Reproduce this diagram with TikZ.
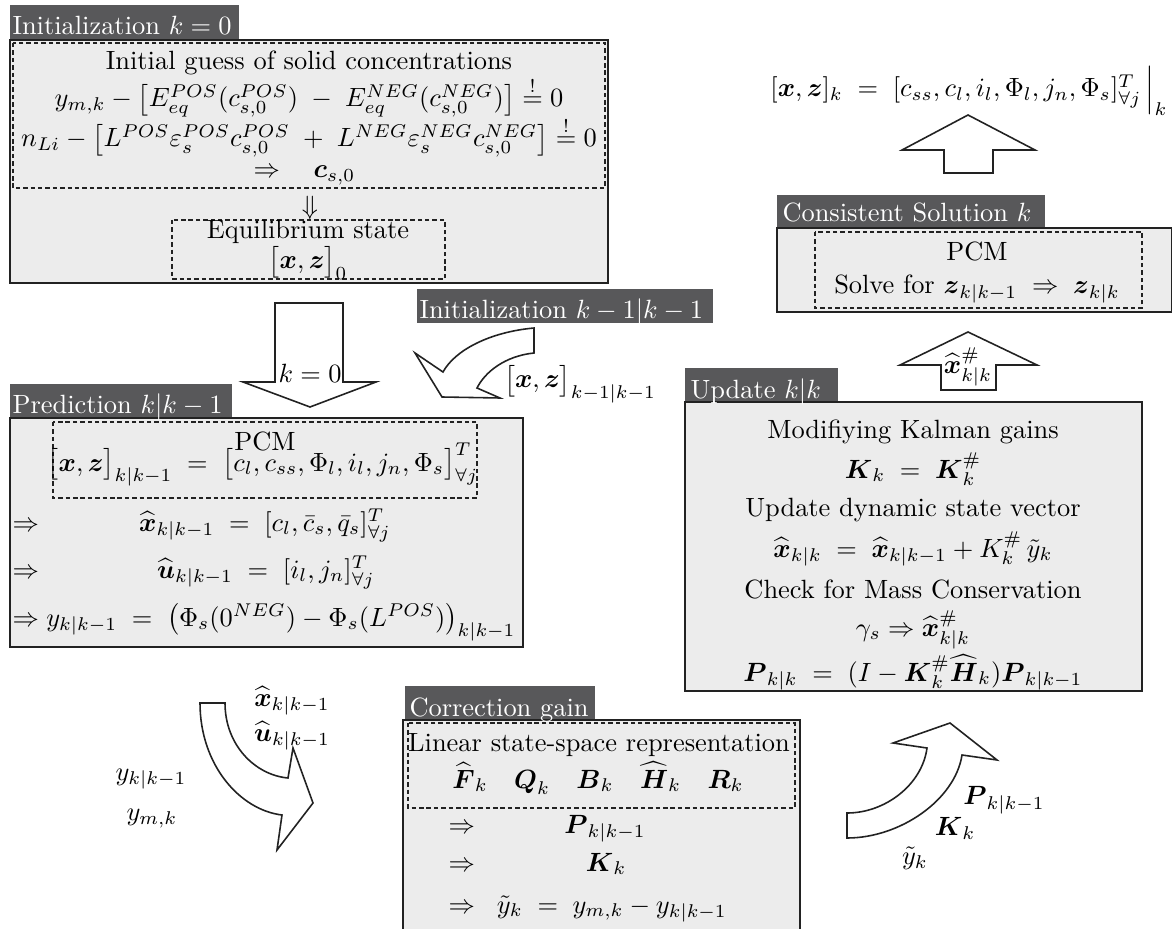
\documentclass[tikz,border=0pt]{standalone}
\usepackage{amsmath,amssymb}
\usetikzlibrary{calc}
\definecolor{tabgray}{HTML}{58585A}
\definecolor{boxgray}{HTML}{ECECEC}
\definecolor{linegray}{HTML}{222222}
\begin{document}
\begin{tikzpicture}[x=0.3788pt,y=-0.3788pt,
  frame/.style={draw=linegray, line width=0.75pt, fill=boxgray},
  tabfill/.style={fill=tabgray, draw=none},
  tabtext/.style={text=white, inner sep=0pt, anchor=base west},
  dbox/.style={draw=linegray, line width=0.5pt, dash pattern=on 1.7pt off 1.1pt},
  fat/.style={draw=linegray, line width=0.6pt, fill=white, line join=miter},
  lbl/.style={inner sep=0pt},
  bl/.style={inner sep=0pt, anchor=base},
  bw/.style={inner sep=0pt, anchor=base west}]
\useasboundingbox (0,0) rectangle (1172,928);
\clip (0,0) rectangle (1172,928);

% ---------- Box 1: Initialization k=0 ----------
\path[tabfill] (10,5) rectangle (239,40);
\coordinate (b1r) at (608,0);
\coordinate (d1r) at (605,0);
\coordinate (b1bot) at (0,283);
\coordinate (d1bot) at (0,188);
\draw[frame] (10,40) rectangle (b1r |- b1bot);
\draw[dbox] (13,43) rectangle (d1r |- d1bot);
\node[tabtext] (t1) at (12,35) {Initialization $k=0$};
\node[bl] (b1l1) at (309,70) {Initial guess of solid concentrations};
\node[bl] (b1l2) at (309,107) {$y_{m,k} - \big[E^{POS}_{eq}(c^{POS}_{s,0})\;-\;E^{NEG}_{eq}(c^{NEG}_{s,0})\big] \stackrel{!}{=} 0$};
\node[bl] (b1l3) at (309,147) {$n_{Li} - \big[L^{POS}\varepsilon^{POS}_{s}c^{POS}_{s,0}\;+\;L^{NEG}\varepsilon^{NEG}_{s}c^{NEG}_{s,0}\big] \stackrel{!}{=} 0$};
\node[bw] (b1l4) at (253,178) {$\Rightarrow\quad \boldsymbol{c}_{s,0}$};
\node[lbl] (b1dn) at (310,208) {$\Downarrow$};
\draw[dbox] (172,220) rectangle (445,279);
\node[bl] (eq1) at (308,239) {Equilibrium state};
\node[bl] (eq2) at (308,269) {$\big[\boldsymbol{x},\boldsymbol{z}\big]_{0}$};

% ---------- k=0 arrow ----------
\draw[fat] (275,303) -- (343,303) -- (343,382) -- (376,382) -- (310,407) -- (243,382) -- (275,382) -- cycle;
\node[bl] (k0) at (310,382) {$k=0$};

% ---------- Initialization k-1|k-1 ----------
\path[tabfill] (417,289) rectangle (713,323);
\node[tabtext] (t2) at (419,319) {Initialization $k-1|k-1$};
\draw[fat] (534,328) .. controls (490,332) and (455,350) .. (443,372) -- (415,353) -- (442,397) -- (500,398) -- (477,388) .. controls (485,372) and (505,356) .. (534,353) -- cycle;
\node[lbl] (xzkm) at (580,384) {$\big[\boldsymbol{x},\boldsymbol{z}\big]_{k-1|k-1}$};

% ---------- Prediction ----------
\path[tabfill] (10,384) rectangle (232,418);
\draw[frame] (10,418) rectangle (523,647);
\node[tabtext] (t3) at (12,413) {Prediction $k|k-1$};
\draw[dbox] (53,422) rectangle (477,498);
\node[bl] (p1) at (265,450) {PCM};
\node[bl] (p2) at (263,471) {$\big[\boldsymbol{x},\boldsymbol{z}\big]_{k|k-1}\;=\;\big[c_l,c_{ss},\Phi_l,i_l,j_n,\Phi_s\big]^{T}_{\forall j}$};
\node[bw] (p3a) at (12,531) {$\Rightarrow$};
\node[bl] (p3) at (265,531) {$\widehat{\boldsymbol{x}}_{k|k-1}\;=\;[c_l,\bar{c}_s,\bar{q}_s]^{T}_{\forall j}$};
\node[bw] (p4a) at (12,578) {$\Rightarrow$};
\node[bl] (p4) at (266,578) {$\widehat{\boldsymbol{u}}_{k|k-1}\;=\;[i_l,j_n]^{T}_{\forall j}$};
\node[bw] (p5) at (12,626) {$\Rightarrow y_{k|k-1}\;=\;\big(\Phi_s(0^{NEG})-\Phi_s(L^{POS})\big)_{k|k-1}$};

% ---------- Prediction -> Correction arrow ----------
\draw[fat] (200,703) -- (225,703) .. controls (225,745) and (255,775) .. (288,778) -- (293,748) -- (313,803) -- (277,850) -- (282,815) .. controls (240,810) and (200,765) .. (200,703) -- cycle;
\node[lbl] (a2x) at (292,701) {$\widehat{\boldsymbol{x}}_{k|k-1}$};
\node[lbl] (a2u) at (292,736) {$\widehat{\boldsymbol{u}}_{k|k-1}$};
\node[lbl] (a2y) at (151,779) {$y_{k|k-1}$};
\node[lbl] (a2m) at (152,819) {$y_{m,k}$};

% ---------- Correction gain ----------
\path[tabfill] (405,686) rectangle (595,720);
\draw[frame] (403,720) rectangle (800,940);
\node[tabtext] (t4) at (409,716) {Correction gain};
\draw[dbox] (408,723) rectangle (795,808);
\node[bl] (c1) at (599,751) {Linear state-space representation};
\node[bl] (c2) at (598,788) {$\widehat{\boldsymbol{F}}_k\quad\boldsymbol{Q}_k\quad\boldsymbol{B}_k\quad\widehat{\boldsymbol{H}}_k\quad\boldsymbol{R}_k$};
\node[bw] (c3a) at (448,833) {$\Rightarrow$};
\node[bl] (c3) at (605,833) {$\boldsymbol{P}_{k|k-1}$};
\node[bw] (c4a) at (448,871) {$\Rightarrow$};
\node[bl] (c4) at (606,871) {$\boldsymbol{K}_{k}$};
\node[bw] (c5) at (448,913) {$\Rightarrow\;\;\tilde{y}_k\;=\;y_{m,k}-y_{k|k-1}$};

% ---------- Correction -> Update arrow ----------
\draw[fat] (847,813) .. controls (885,813) and (922,785) .. (927,748) -- (893,743) -- (950,723) -- (997,760) -- (962,755) .. controls (955,800) and (900,838) .. (847,838) -- cycle;
\node[lbl] (a3p) at (1004,800) {$\boldsymbol{P}_{k|k-1}$};
\node[lbl] (a3k) at (955,828) {$\boldsymbol{K}_{k}$};
\node[lbl] (a3y) at (915,858) {$\tilde{y}_k$};

% ---------- Update ----------
\path[tabfill] (685,368) rectangle (838,402);
\draw[frame] (685,402) rectangle (1142,691);
\node[tabtext] (t5) at (690,398) {Update $k|k$};
\node[bl] (u1) at (913,438) {Modifiying Kalman gains};
\node[bl] (u2) at (913,478) {$\boldsymbol{K}_k\;=\;\boldsymbol{K}^{\#}_k$};
\node[bl] (u3) at (913,516) {Update dynamic state vector};
\node[bl] (u4) at (913,557) {$\widehat{\boldsymbol{x}}_{k|k}\;=\;\widehat{\boldsymbol{x}}_{k|k-1}+K^{\#}_k\,\tilde{y}_k$};
\node[bl] (u5) at (913,598) {Check for Mass Conservation};
\node[bl] (u6) at (913,636) {$\gamma_s\Rightarrow\widehat{\boldsymbol{x}}^{\#}_{k|k}$};
\node[bl] (u7) at (913,681) {$\boldsymbol{P}_{k|k}\;=\;(I-\boldsymbol{K}^{\#}_k\widehat{\boldsymbol{H}}_k)\boldsymbol{P}_{k|k-1}$};

% ---------- Update -> Consistent arrow ----------
\draw[fat] (941,390) -- (996,390) -- (996,365) -- (1037,365) -- (968,332) -- (900,365) -- (941,365) -- cycle;
\node[lbl] (a4) at (968,367) {$\widehat{\boldsymbol{x}}^{\#}_{k|k}$};

% ---------- Consistent Solution ----------
\path[tabfill] (777,195) rectangle (1045,228);
\draw[frame] (777,228) rectangle (1172,312);
\node[tabtext] (t6) at (782,222) {Consistent Solution $k$};
\draw[dbox] (815,232) rectangle (1142,308);
\node[bl] (s1) at (977,261) {PCM};
\node[bl] (s2) at (977,294) {Solve for $\boldsymbol{z}_{k|k-1}\;\Rightarrow\;\boldsymbol{z}_{k|k}$};

% ---------- top arrow & result ----------
\draw[fat] (944,173) -- (993,173) -- (993,150) -- (1035,150) -- (968,115) -- (902,150) -- (944,150) -- cycle;
\node[bl] (res) at (969,97) {$[\boldsymbol{x},\boldsymbol{z}]_{k}\;=\;[c_{ss},c_l,i_l,\Phi_l,j_n,\Phi_s]^{T}_{\forall j}\,\Big|_{k}$};
\end{tikzpicture}
\end{document}
